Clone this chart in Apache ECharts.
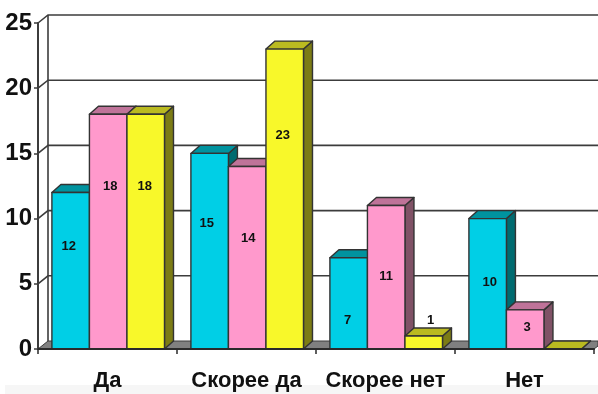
<!DOCTYPE html>
<html><head><meta charset="utf-8">
<style>html,body{margin:0;padding:0;background:#fff}#c{width:598px;height:394px}</style>
<script src="https://cdn.jsdelivr.net/npm/echarts@6/dist/echarts.min.js"></script>
</head><body><div id="c"></div>
<script>
const categories = ['Да', 'Скорее да', 'Скорее нет', 'Нет'];
const seriesA = [12, 15, 7, 10];
const seriesB = [18, 14, 11, 3];
const seriesC = [18, 23, 1, 0];
const yTicks = [0, 5, 10, 15, 20, 25];

// layout only: position of each value label relative to its bar, in px
const labelLiftA = [103, 126, 29, 67];
const labelLiftB = [163, 111, 73, 22];
const labelLiftC = [163, 214, 29, 0];
const labelShiftA = [-1, -2, 0, 3];
const labelShiftB = [3, 2, 1, 3];
const labelShiftC = [0, -1, 8, 0];

const DX = 10, DY = 8, BAR_DX = 9, BAR = 0.27, PAD = 0.1;
const INK = '#333333';
const palettes = [
  {front:'#00CFE6', top:'#00939F', side:'#006B70'},
  {front:'#FF99CC', top:'#BF7399', side:'#805266'},
  {front:'#F8F82A', top:'#BABA20', side:'#7C7C15'}
];

function wallItem(params, api) {
  const v = api.value(0);
  const cs = params.coordSys;
  const y = api.coord([0, v])[1];
  const x0 = cs.x, right = 598;
  const children = [];
  const line = {stroke:'#3c3c3c', lineWidth:1.6, fill:null};
  if (v === 0) {
    children.push({type:'polygon', shape:{points:[[x0,y],[x0+DX,y-DY],[right,y-DY],[right,y-3],[x0+cs.width,y]]},
      style:{fill:'#808080', stroke:'#3c3c3c', lineWidth:1}});
    const topY = api.coord([0, yTicks[yTicks.length-1]])[1];
    children.push({type:'line', shape:{x1:x0+DX,y1:y-DY,x2:x0+DX,y2:topY-DY}, style:line});
  } else {
    children.push({type:'polyline', shape:{points:[[x0,y],[x0+DX,y-DY],[right,y-DY]]}, style:line});
  }
  return {type:'group', children};
}

function barRenderer(si, lifts, shifts) {
  return function (params, api) {
    const cat = api.value(0), val = api.value(1);
    const band = api.size([1, 0])[0];
    const w = band * BAR;
    const start = api.coord([cat, 0])[0] - band / 2 + band * PAD;
    const x = start + si * w, x2 = x + w;
    const y0 = api.coord([cat, 0])[1], y = api.coord([cat, val])[1];
    const p = palettes[si];
    const st = (fill) => ({fill, stroke:INK, lineWidth:1.4, lineJoin:'round'});
    const children = [
      {type:'polygon', shape:{points:[[x2,y],[x2+BAR_DX,y-DY],[x2+BAR_DX,y0-DY],[x2,y0]]}, style:st(p.side)},
      {type:'polygon', shape:{points:[[x,y],[x+BAR_DX,y-DY],[x2+BAR_DX,y-DY],[x2,y]]}, style:st(p.top)}
    ];
    if (val > 0) {
      children.push({type:'rect', shape:{x, y, width:w, height:y0-y}, style:st(p.front)});
      children.push({type:'text', z2:10, style:{text:String(val), x:(x+x2)/2-1+shifts[cat], y:y0-lifts[cat],
        align:'center', verticalAlign:'middle', fill:'#111', font:'bold 13px "Liberation Sans", Arial, sans-serif'}});
    }
    return {type:'group', children};
  };
}

function barSeries(values, si, lifts, shifts) {
  return {type:'custom', coordinateSystem:'cartesian2d', clip:false, z:3+si,
    renderItem:barRenderer(si, lifts, shifts), encode:{x:0,y:1},
    data:values.map((v,i)=>[i,v])};
}

const chart = echarts.init(document.getElementById('c'), null, {renderer:'canvas'});
chart.setOption({
  animation:false,
  backgroundColor:'#fff',
  graphic:[{type:'rect', silent:true, z:-1, shape:{x:5,y:385,width:593,height:9}, style:{fill:'#f6f6f6'}}],
  grid:{left:38,right:4,top:23,bottom:45,containLabel:false},
  xAxis:{type:'category',data:categories,z:10,
    axisLine:{lineStyle:{color:'#2a2a2a',width:2}},
    axisTick:{show:true,alignWithLabel:false,length:5,lineStyle:{color:'#2a2a2a',width:1.5}},
    axisLabel:{interval:0,margin:21,color:'#111',fontSize:22,fontWeight:'bold',fontFamily:'"Liberation Sans",Arial,sans-serif'},
    splitLine:{show:false}},
  yAxis:{type:'value',min:0,max:25,interval:5,z:10,
    axisLine:{show:true,lineStyle:{color:'#3c3c3c',width:2}},
    axisTick:{show:true,length:4,lineStyle:{color:'#3c3c3c',width:1.5}},
    axisLabel:{margin:6,color:'#111',fontSize:24,fontWeight:'bold',fontFamily:'"Liberation Sans",Arial,sans-serif'},
    splitLine:{show:false}},
  series:[
    {type:'custom',coordinateSystem:'cartesian2d',clip:false,z:1,renderItem:wallItem,encode:{y:0},data:yTicks.map(v=>[v]),silent:true},
    barSeries(seriesA,0,labelLiftA,labelShiftA),
    barSeries(seriesB,1,labelLiftB,labelShiftB),
    barSeries(seriesC,2,labelLiftC,labelShiftC)
  ]
});
</script></body></html>
